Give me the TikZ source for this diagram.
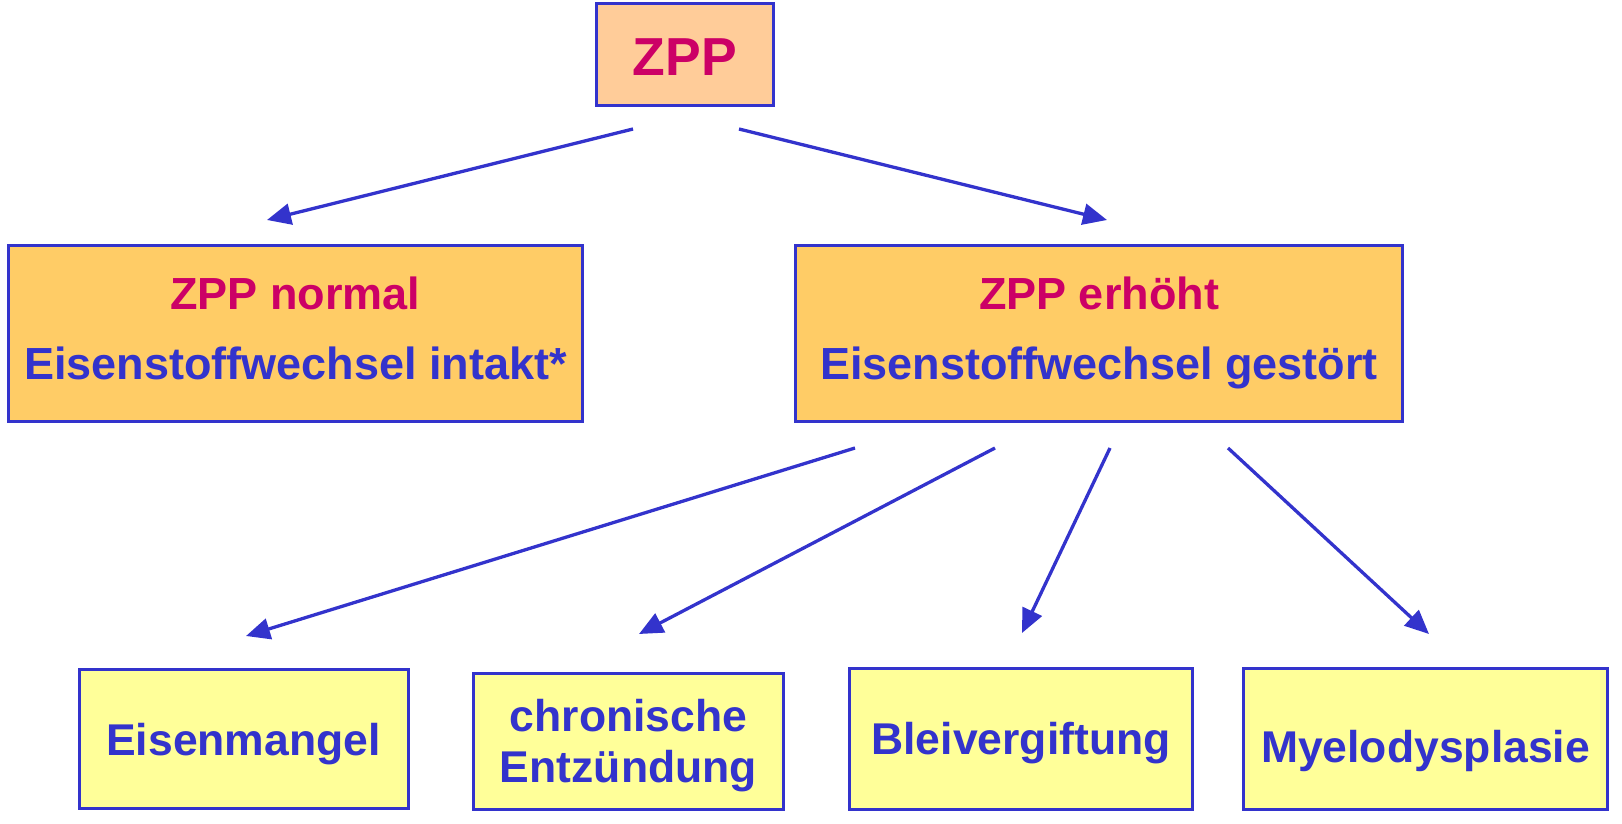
\documentclass[tikz,border=0pt]{standalone}
\usepackage{fontspec}
\setmainfont{Liberation Sans}
\usetikzlibrary{arrows.meta}
\definecolor{bblue}{HTML}{3333CC}
\definecolor{zred}{HTML}{CC0066}
\definecolor{fpeach}{HTML}{FFCC99}
\definecolor{forange}{HTML}{FFCC66}
\definecolor{fyellow}{HTML}{FFFF99}
\tikzset{
  box/.style={draw=bblue, line width=3pt, inner sep=0pt, text=bblue, align=center},
  bigtxt/.style={font=\fontsize{45pt}{70pt}\selectfont\bfseries},
  smalltxt/.style={font=\fontsize{44.5pt}{51pt}\selectfont\bfseries},
  conn/.style={draw=bblue, line width=3.3pt, -{Triangle[length=24pt,width=21pt]}}
}
\begin{document}
\begin{tikzpicture}[x=1pt,y=-1pt]
\useasboundingbox (0,0) rectangle (1622,824);
% boxes
\node[box, fill=fpeach, minimum width=177pt, minimum height=102pt,
      font=\fontsize{53.5pt}{60pt}\selectfont\bfseries, text=zred,
      text height=42pt, text depth=0pt] (zpp) at (685,55) {ZPP};
\node[box, fill=forange, bigtxt, minimum width=574pt, minimum height=176pt,
      text height=91pt, text depth=0pt] (normal) at (295.5,333.5)
      {\textcolor{zred}{ZPP normal}\\Eisenstoffwechsel intakt*};
\node[box, fill=forange, bigtxt, minimum width=607pt, minimum height=176pt,
      text height=91pt, text depth=0pt] (erhoeht) at (1099,333.5)
      {\textcolor{zred}{ZPP erhöht}\\Eisenstoffwechsel gestört};
\node[box, fill=fyellow, smalltxt, minimum width=329pt, minimum height=139pt,
      text height=32pt, text depth=0pt] (mangel) at (243.5,739) {Eisenmangel};
\node[box, fill=fyellow, smalltxt, minimum width=310pt, minimum height=136pt,
      text height=81pt, text depth=0pt] (chron) at (628.5,741.5) {chronische\\Entzündung};
\node[box, fill=fyellow, smalltxt, minimum width=343pt, minimum height=141pt,
      text height=30pt, text depth=0pt] (blei) at (1021,739) {Bleivergiftung};
\node[box, fill=fyellow, smalltxt, minimum width=364pt, minimum height=141pt,
      text height=46pt, text depth=0pt] (myelo) at (1425.5,739) {Myelodysplasie};
% connector end points
\coordinate (zppL) at (633,129);
\coordinate (zppR) at (739,129);
\coordinate (normalT) at (267,220);
\coordinate (erhoehtT) at (1107,220);
\coordinate (e1) at (855,448);
\coordinate (e2) at (995,448);
\coordinate (e3) at (1110,448);
\coordinate (e4) at (1228,448);
\coordinate (mangelT) at (246,636);
\coordinate (chronT) at (639,634);
\coordinate (bleiT) at (1022,633);
\coordinate (myeloT) at (1429,634);
% connectors
\draw[conn] (zppL) -- (normalT);
\draw[conn] (zppR) -- (erhoehtT);
\draw[conn] (e1) -- (mangelT);
\draw[conn] (e2) -- (chronT);
\draw[conn] (e3) -- (bleiT);
\draw[conn] (e4) -- (myeloT);
\end{tikzpicture}
\end{document}
